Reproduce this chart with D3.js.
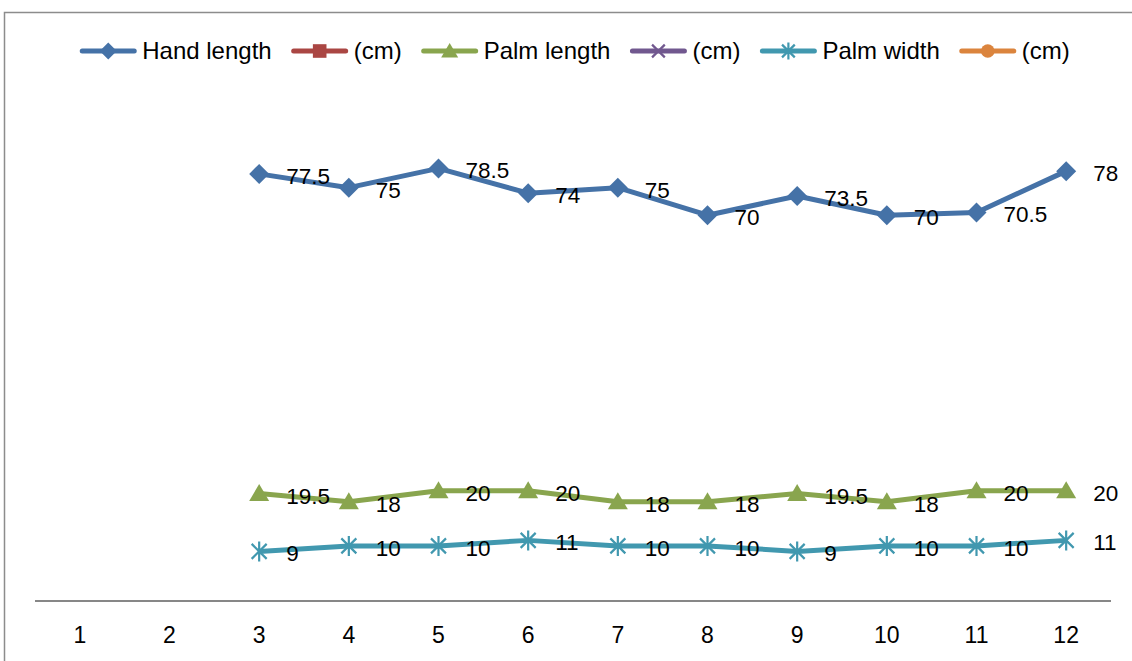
<!DOCTYPE html>
<html>
<head>
<meta charset="utf-8">
<script src="https://cdn.jsdelivr.net/npm/d3@7/dist/d3.min.js"></script>
<style>
  html, body { margin: 0; padding: 0; background: #fff; }
  svg { display: block; }
  text { font-family: "Liberation Sans", Arial, sans-serif; fill: #000; }
</style>
</head>
<body>
<svg id="chart" width="1132" height="661"></svg>
<script>
const categories = ["1","2","3","4","5","6","7","8","9","10","11","12"];
const handLength = [null,null,77.5,75,78.5,74,75,70,73.5,70,70.5,78];
const handCm = [null,null,null,null,null,null,null,null,null,null,null,null];
const palmLength = [null,null,19.5,18,20,20,18,18,19.5,18,20,20];
const palmLengthCm = [null,null,null,null,null,null,null,null,null,null,null,null];
const palmWidth = [null,null,9,10,10,11,10,10,9,10,10,11];
const palmWidthCm = [null,null,null,null,null,null,null,null,null,null,null,null];
const seriesNames = ["Hand length","(cm)","Palm length","(cm)","Palm width","(cm)"];
const seriesColors = ["#4572A7","#AA4643","#89A54E","#71588F","#4198AF","#DB843D"];
const seriesMarkers = ["diamond","square","triangle","x","star","circle"];
const yDomain = [0, 90];

const series = [handLength, handCm, palmLength, palmLengthCm, palmWidth, palmWidthCm].map((vals, i) => ({
  name: seriesNames[i], color: seriesColors[i], marker: seriesMarkers[i],
  values: vals.map((v, j) => ({cat: categories[j], v}))
}));

const svg = d3.select("#chart");

// chart border
svg.append("rect").attr("x", 4.5).attr("y", 12.5).attr("width", 1140).attr("height", 660)
  .attr("fill", "none").attr("stroke", "#8c8c8c").attr("stroke-width", 1.5);

const x = d3.scaleBand().domain(categories).range([35, 1111]);
const y = d3.scaleLinear().domain(yDomain).range([601, 105]);
const cx = c => x(c) + x.bandwidth() / 2;

// x axis
const xAxis = d3.axisBottom(x).tickSize(0).tickPadding(0);
const gx = svg.append("g").attr("transform", `translate(0,${y(0)})`).call(xAxis);
gx.select(".domain").attr("stroke", "#878787").attr("stroke-width", 2).attr("d", "M35,0H1111");
gx.selectAll(".tick text").attr("font-size", 23).attr("dy", 0).attr("y", 42)
  .attr("font-family", "Liberation Sans, Arial, sans-serif").attr("fill", "#000");

function drawMarker(g, type, color, s) {
  const h = s / 2;
  if (type === "diamond") {
    g.append("path").attr("d", `M0,${-h}L${h},0L0,${h}L${-h},0Z`).attr("fill", color);
  } else if (type === "square") {
    g.append("rect").attr("x", -h*0.8).attr("y", -h*0.8).attr("width", s*0.8).attr("height", s*0.8).attr("fill", color);
  } else if (type === "triangle") {
    g.append("path").attr("d", `M0,${-h*0.95}L${h},${h*0.75}L${-h},${h*0.75}Z`).attr("fill", color);
  } else if (type === "x") {
    const k = h * 0.75;
    g.append("path").attr("d", `M${-k},${-k}L${k},${k}M${-k},${k}L${k},${-k}`).attr("stroke", color).attr("stroke-width", 2.2);
  } else if (type === "star") {
    const k = h * 0.75;
    g.append("path").attr("d", `M${-k},${-k}L${k},${k}M${-k},${k}L${k},${-k}M0,${-h}L0,${h}`).attr("stroke", color).attr("stroke-width", 2.2).attr("fill", "none");
  } else if (type === "circle") {
    g.append("circle").attr("r", h * 0.8).attr("fill", color);
  }
}

const line = d3.line().defined(d => d.v != null).x(d => cx(d.cat)).y(d => y(d.v));

series.forEach(s => {
  const pts = s.values.filter(d => d.v != null);
  if (!pts.length) return;
  const g = svg.append("g");
  g.append("path").datum(s.values).attr("d", line).attr("fill", "none")
    .attr("stroke", s.color).attr("stroke-width", 5).attr("stroke-linejoin", "round");
  pts.forEach(d => {
    const mg = g.append("g").attr("transform", `translate(${cx(d.cat)},${y(d.v)})`);
    drawMarker(mg, s.marker, s.color, 20);
  });
  g.selectAll("text.lbl").data(pts).join("text").attr("class", "lbl")
    .attr("x", d => cx(d.cat) + 27).attr("y", d => y(d.v) + 10)
    .attr("font-size", 22.5).text(d => d.v);
});

// legend
const lg = svg.append("g");
let lx = 0;
series.forEach((s, i) => {
  const eg = lg.append("g").attr("transform", `translate(${lx},0)`);
  eg.append("line").attr("x1", 0).attr("x2", 52).attr("y1", 51).attr("y2", 51)
    .attr("stroke", s.color).attr("stroke-width", 5).attr("stroke-linecap", "round");
  const mg = eg.append("g").attr("transform", "translate(26,51)");
  drawMarker(mg, s.marker, s.color, 17);
  const t = eg.append("text").attr("x", 60).attr("y", 59).attr("font-size", 24).text(s.name);
  const w = t.node().getComputedTextLength();
  lx += 60 + w + 22;
});
const total = lx - 22;
lg.attr("transform", `translate(${576 - total / 2},0)`);
</script>
</body>
</html>
